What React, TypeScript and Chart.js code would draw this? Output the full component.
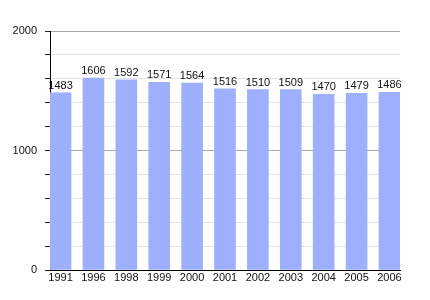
import React, { useEffect, useRef } from "react";
import { Chart, registerables } from "chart.js";

Chart.register(...registerables);

const years = ["1991", "1996", "1998", "1999", "2000", "2001", "2002", "2003", "2004", "2005", "2006"];
const population = [1483, 1606, 1592, 1571, 1564, 1516, 1510, 1509, 1470, 1479, 1486];
const yTickLabels = [0, 1000, 2000];

const FONT = "'Liberation Sans', Arial, sans-serif";

const valueLabels = {
  id: "valueLabels",
  afterDatasetsDraw(chart: any) {
    const ctx = chart.ctx;
    const meta = chart.getDatasetMeta(0);
    ctx.save();
    ctx.font = `11px ${FONT}`;
    ctx.fillStyle = "#111";
    ctx.textAlign = "center";
    ctx.textBaseline = "alphabetic";
    meta.data.forEach((el: any, i: number) => {
      ctx.fillText(String(population[i]), el.x, el.y - 4);
    });
    ctx.restore();
  },
};

export default function App() {
  const ref = useRef<HTMLCanvasElement>(null);
  useEffect(() => {
    if (!ref.current) return;
    const chart = new Chart(ref.current, {
      type: "bar",
      data: {
        datasets: [
          {
            data: population.map((v, i) => ({ x: i, y: v })),
            backgroundColor: "#9eb0fd",
            barThickness: 21,
          },
        ],
      },
      options: {
        animation: false,
        responsive: false,
        maintainAspectRatio: false,
        layout: { padding: { left: 0, right: 30, top: 31, bottom: 0 } },
        plugins: { legend: { display: false }, tooltip: { enabled: false } },
        scales: {
          x: {
            type: "linear",
            offset: false,
            min: -0.32,
            max: 10.32,
            afterBuildTicks: (s: any) => {
              s.ticks = years.map((_, i) => ({ value: i }));
            },
            afterFit: (s: any) => {
              s.height = 30;
            },
            ticks: {
              autoSkip: false,
              maxRotation: 0,
              padding: 1,
              color: "#111",
              font: { family: FONT, size: 11 },
              callback: (v: any) => years[v] ?? "",
            },
            grid: { display: false, drawTicks: false },
            border: { color: "#000", width: 1 },
          },
          y: {
            min: 0,
            max: 2000,
            afterBuildTicks: (s: any) => {
              const t = [];
              for (let v = 0; v <= 2000; v += 200) t.push({ value: v });
              s.ticks = t;
            },
            afterFit: (s: any) => {
              s.width = 50;
            },
            ticks: {
              padding: 8,
              color: "#111",
              font: { family: FONT, size: 11 },
              callback: (v: any) => (yTickLabels.includes(v) ? String(v) : ""),
            },
            grid: {
              color: (c: any) =>
                c.tick && c.tick.value % 1000 === 0 ? "#a8a8a8" : "#e4e4e4",
              tickColor: "#222",
              tickLength: 5,
            },
            border: { color: "#000", width: 1 },
          },
        },
      },
      plugins: [valueLabels],
    });
    return () => chart.destroy();
  }, []);
  return (
    <div style={{ position: "fixed", left: 0, top: 0, width: 430, height: 300, background: "#fff" }}>
      <canvas ref={ref} width={430} height={300} />
    </div>
  );
}
